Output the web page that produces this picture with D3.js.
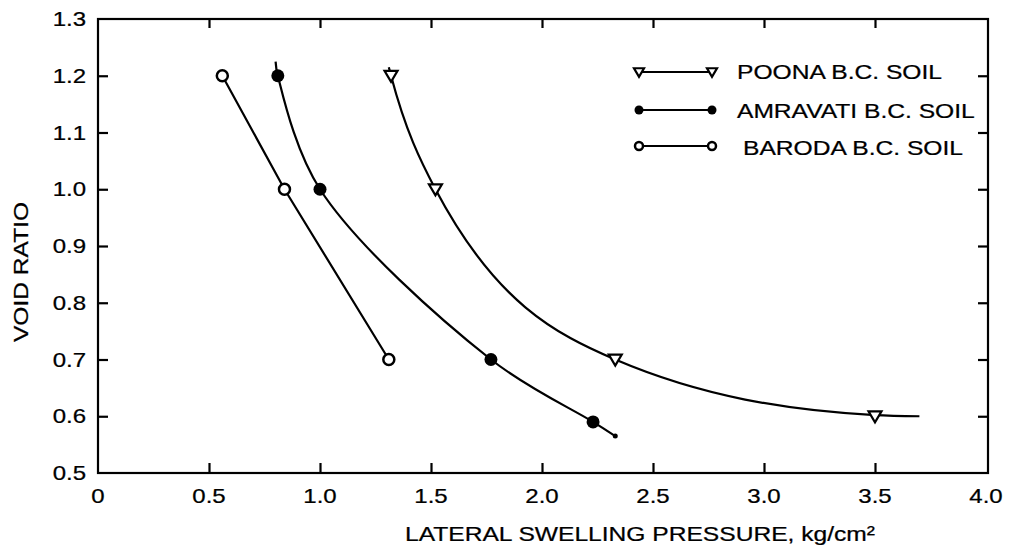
<!DOCTYPE html>
<html><head><meta charset="utf-8">
<script src="https://cdn.jsdelivr.net/npm/d3@7"></script>
<style>body{margin:0;background:#fff}svg{display:block}text{font-family:"Liberation Sans",Arial,Helvetica,sans-serif;fill:#000;stroke:#000;stroke-width:0.25px}</style>
</head><body><svg id="c" width="1013" height="550"></svg>
<script>
// ---- data ----
const seriesNames = ["POONA B.C. SOIL", "AMRAVATI B.C. SOIL", "BARODA B.C. SOIL"];
const poonaX = [1.32, 1.52, 2.33, 3.5];
const poonaY = [1.2, 1.0, 0.7, 0.6];
const poonaLineX = [1.31, 1.32, 1.52, 2.33, 3.5, 3.7];
const poonaLineY = [1.215, 1.2, 1.0, 0.7, 0.602, 0.6];
const amravatiX = [0.81, 1.0, 1.77, 2.23];
const amravatiY = [1.2, 1.0, 0.7, 0.59];
const amravatiLineX = [0.8, 0.81, 1.0, 1.77, 2.23, 2.33];
const amravatiLineY = [1.225, 1.2, 1.0, 0.7, 0.59, 0.565];
const barodaX = [0.56, 0.84, 1.31];
const barodaY = [1.2, 1.0, 0.7];
const xTicks = [0, 0.5, 1.0, 1.5, 2.0, 2.5, 3.0, 3.5, 4.0];
const xTickLabels = ["0", "0.5", "1.0", "1.5", "2.0", "2.5", "3.0", "3.5", "4.0"];
const yTicks = [0.5, 0.6, 0.7, 0.8, 0.9, 1.0, 1.1, 1.2, 1.3];
const yTickLabels = ["0.5", "0.6", "0.7", "0.8", "0.9", "1.0", "1.1", "1.2", "1.3"];
const xTitle = "LATERAL SWELLING PRESSURE, kg/cm²";
const yTitle = "VOID RATIO";

// ---- layout ----
const L = 98, R = 988, T = 19, B = 473;
const SX = 1.2; // horizontal stretch of the lettering
const svg = d3.select("#c");
const x = d3.scaleLinear().domain([0, 4]).range([L, 986]);
const y = d3.scaleLinear().domain([0.5, 1.3]).range([B, T]);

function txt(px, py, s, size, anchor, rot) {
  return svg.append("text")
    .attr("transform", `translate(${px},${py})` + (rot ? ` rotate(${rot})` : "") + ` scale(${SX},1)`)
    .attr("text-anchor", anchor).attr("font-size", size).text(s);
}

// frame
svg.append("rect").attr("x", L).attr("y", T).attr("width", R - L).attr("height", B - T)
  .attr("fill", "none").attr("stroke", "#000").attr("stroke-width", 2.2);

// axes with inward ticks
const axB = d3.axisTop(x).tickValues(xTicks.slice(1, -1)).tickSize(10).tickFormat("");
svg.append("g").attr("transform", `translate(0,${B})`).call(axB);
const axT = d3.axisBottom(x).tickValues(xTicks.slice(1, -1)).tickSize(9).tickFormat("");
svg.append("g").attr("transform", `translate(0,${T})`).call(axT);
const axL = d3.axisRight(y).tickValues(yTicks.slice(1, -1)).tickSize(10).tickFormat("");
svg.append("g").attr("transform", `translate(${L},0)`).call(axL);
const axR = d3.axisLeft(y).tickValues(yTicks.slice(1, -1)).tickSize(10).tickFormat("");
svg.append("g").attr("transform", `translate(${R},0)`).call(axR);
svg.selectAll(".domain").remove();
svg.selectAll(".tick line").attr("stroke", "#000").attr("stroke-width", 2.2);

// tick labels
xTicks.forEach((v, i) => txt(x(v), 503, xTickLabels[i], 20, "middle"));
yTicks.forEach((v, i) => txt(86, y(v) + 7, yTickLabels[i], 20, "end"));

// axis titles
txt(640, 541, xTitle, 20.5, "middle");
txt(28, 272, yTitle, 20.5, "middle", -90);

// curves
const lineC = d3.line().x(d => x(d[0])).y(d => y(d[1])).curve(d3.curveCatmullRom.alpha(0.5));
const lineM = d3.line().x(d => x(d[0])).y(d => y(d[1])).curve(d3.curveMonotoneX);
const lineL = d3.line().x(d => x(d[0])).y(d => y(d[1]));
const g = svg.append("g").attr("fill", "none").attr("stroke", "#000").attr("stroke-width", 2.2);
g.append("path").attr("d", lineM(d3.zip(poonaLineX, poonaLineY)));
g.append("path").attr("d", lineC(d3.zip(amravatiLineX, amravatiLineY)));
g.append("path").attr("d", lineL(d3.zip(barodaX, barodaY)));

// markers
const tri = (s) => `M${-s},${-s * 0.75}L${s},${-s * 0.75}L0,${s * 0.95}Z`;
function triangle(px, py, s) {
  svg.append("path").attr("transform", `translate(${px},${py})`).attr("d", tri(s))
    .attr("fill", "#fff").attr("stroke", "#000").attr("stroke-width", 2.2);
}
function dot(px, py, r) {
  svg.append("circle").attr("cx", px).attr("cy", py).attr("r", r).attr("fill", "#000");
}
function ring(px, py, r) {
  svg.append("circle").attr("cx", px).attr("cy", py).attr("r", r)
    .attr("fill", "#fff").attr("stroke", "#000").attr("stroke-width", 2.5);
}
poonaX.forEach((v, i) => triangle(x(v), y(poonaY[i]), 6.5));
amravatiX.forEach((v, i) => dot(x(v), y(amravatiY[i]), 6.5));
barodaX.forEach((v, i) => ring(x(v), y(barodaY[i]), 5.5));
// small end blob on Amravati curve
dot(x(amravatiLineX[amravatiLineX.length - 1]), y(amravatiLineY[amravatiLineY.length - 1]), 2.5);

// legend
const lx1 = 639, lx2 = 712;
const rows = [72, 110, 146];
rows.forEach((ry, i) => {
  svg.append("line").attr("x1", lx1).attr("x2", lx2).attr("y1", ry).attr("y2", ry)
    .attr("stroke", "#000").attr("stroke-width", 2.2);
});
triangle(lx1, rows[0], 5); triangle(lx2, rows[0], 5);
dot(lx1, rows[1], 4.5); dot(lx2, rows[1], 4.5);
ring(lx1, rows[2], 4); ring(lx2, rows[2], 4);
txt(737, 79, seriesNames[0], 20.5, "start");
txt(737, 118, seriesNames[1], 20.5, "start");
txt(743, 155, seriesNames[2], 20.5, "start");
</script></body></html>
